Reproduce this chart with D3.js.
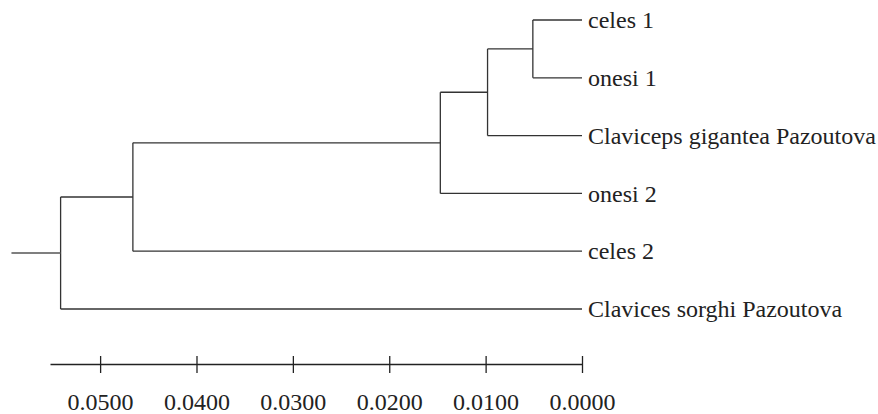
<!DOCTYPE html>
<html>
<head>
<meta charset="utf-8">
<script src="https://cdn.jsdelivr.net/npm/d3@7"></script>
<style>
    body { margin: 0; background: #fff; }
    svg { display: block; }
</style>
</head>
<body>
<svg id="chart"></svg>
<script>
// leaves, top to bottom
const leaves = ["celes 1", "onesi 1", "Claviceps gigantea Pazoutova", "onesi 2", "celes 2", "Clavices sorghi Pazoutova"];
// merges: [child a, child b, height]; ids >= leaves.length point to earlier merges
const merges = [
    [0, 1, 0.0051],
    [6, 2, 0.0098],
    [7, 3, 0.0147],
    [8, 4, 0.0466],
    [9, 5, 0.0541]
];
const rootStub = 0.0592;   // root branch length end
const axisMax = 0.0552;
const tickValues = [0.05, 0.04, 0.03, 0.02, 0.01, 0.0];
const tickLabels = ["0.0500", "0.0400", "0.0300", "0.0200", "0.0100", "0.0000"];

const width = 878, height = 414;
const svg = d3.select("#chart").attr("width", width).attr("height", height);

const x = d3.scaleLinear().domain([axisMax, 0]).range([50, 582]);
const y = d3.scaleLinear().domain([0, leaves.length - 1]).range([20, 309]);

// build node list: leaves first, then merges
let nodes = leaves.map((name, i) => ({ name: name, h: 0, y: y(i) }));
merges.forEach(m => {
    let a = nodes[m[0]], b = nodes[m[1]];
    nodes.push({ children: [a, b], h: m[2], y: (a.y + b.y) / 2 });
});
let root = nodes[nodes.length - 1];

const lineColor = "#333";
const tree = svg.append("g").attr("stroke", lineColor).attr("stroke-width", 1.3).attr("fill", "none");

nodes.filter(d => d.children).forEach(d => {
    // vertical connector
    tree.append("line")
        .attr("x1", x(d.h)).attr("x2", x(d.h))
        .attr("y1", d3.min(d.children, c => c.y))
        .attr("y2", d3.max(d.children, c => c.y));
    // horizontal branches to children
    d.children.forEach(c => {
        tree.append("line")
            .attr("x1", x(d.h)).attr("x2", x(c.h))
            .attr("y1", c.y).attr("y2", c.y);
    });
});

// root stub
tree.append("line")
    .attr("x1", x(rootStub)).attr("x2", x(root.h))
    .attr("y1", root.y).attr("y2", root.y)
    .attr("stroke", "#555");

// leaf labels
svg.append("g")
    .selectAll("text").data(nodes.slice(0, leaves.length))
    .enter()
    .append("text")
    .attr("x", x(0) + 6)
    .attr("y", d => d.y)
    .attr("dy", "0.34em")
    .attr("fill", "#222")
    .attr("font-family", "'Liberation Serif', 'Times New Roman', serif")
    .attr("font-size", "24px")
    .text(d => d.name);

// scale axis
const axis = d3.axisBottom(x)
    .tickValues(tickValues)
    .tickFormat((d, i) => tickLabels[i])
    .tickSizeInner(9)
    .tickSizeOuter(0)
    .tickPadding(20);

const gx = svg.append("g")
    .attr("transform", "translate(0,364)")
    .call(axis);
gx.select(".domain").attr("stroke", "#222").attr("stroke-width", 1.3);
gx.selectAll(".tick line").attr("y1", -8).attr("stroke", "#222").attr("stroke-width", 1.3);
gx.selectAll(".tick text")
    .attr("fill", "#222")
    .attr("font-family", "'Liberation Serif', 'Times New Roman', serif")
    .attr("font-size", "24px");
</script>
</body>
</html>
